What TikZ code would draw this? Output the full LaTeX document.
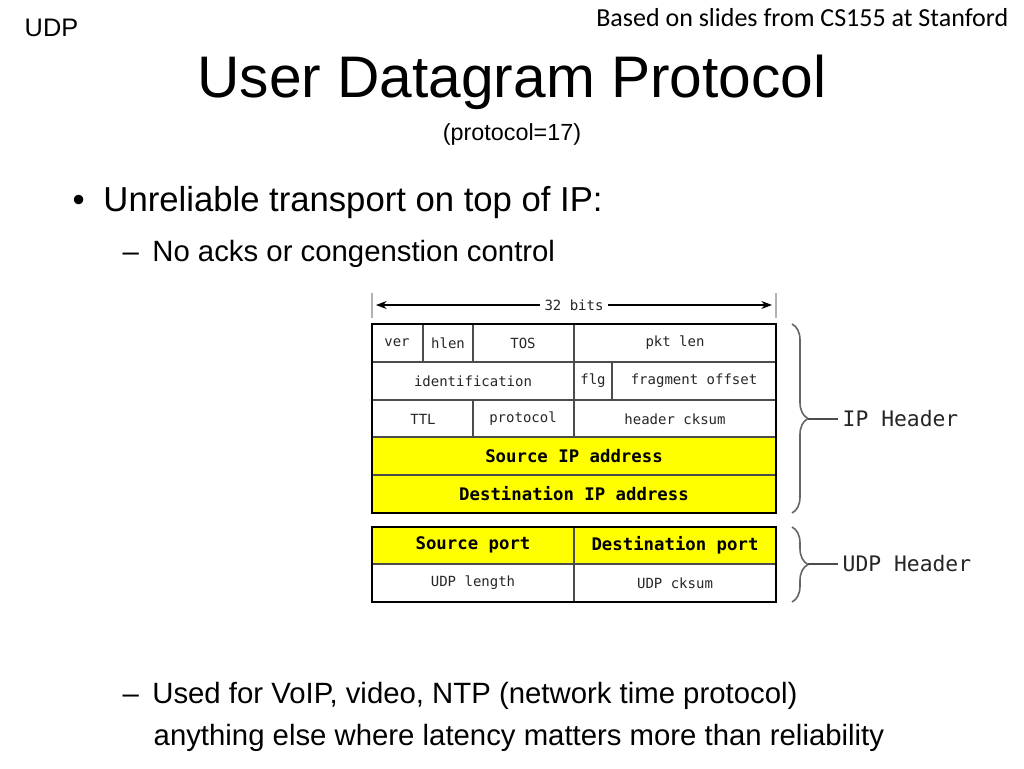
\documentclass[tikz,border=0pt]{standalone}
\usepackage{fontspec}
\setmainfont{Liberation Sans}
\newfontfamily\calfnt{Carlito}
\newfontfamily\mono{DejaVu Sans Mono}
\usetikzlibrary{decorations.pathreplacing,arrows.meta}
\definecolor{hl}{RGB}{255,255,0}
\begin{document}
\begin{tikzpicture}[x=0.75pt,y=-0.75pt,
  cell/.style={draw=black!70,line width=0.8pt},
  ct/.style={font=\mono\fontsize{10.5}{12}\selectfont,text=black!85},
  bt/.style={font=\mono\bfseries\fontsize{13}{15}\selectfont},
  br/.style={decorate,decoration={brace,amplitude=12pt,aspect=0.5},draw=black!60,line width=1.2pt}]
\useasboundingbox (0,0) rectangle (1024,768);
\node[anchor=west,font=\fontsize{19}{24}\selectfont] (udp) at (20,28) {UDP};
\node[anchor=east,font=\calfnt\fontsize{19.5}{22}\selectfont] (src) at (1013,18) {Based on slides from CS155 at Stanford};
\node[font=\fontsize{44}{54}\selectfont] (title) at (512,82) {User Datagram Protocol};
\node[font=\fontsize{17.5}{22}\selectfont] (proto) at (512,134) {(protocol=17)};
\node[anchor=west,font=\fontsize{26}{32}\selectfont] (b1) at (68,203) {\textbullet\hspace{14pt}Unreliable transport on top of IP:};
\node[anchor=west,font=\fontsize{22}{28}\selectfont] (b2) at (118,254) {–\hspace{10pt}No acks or congenstion control};
\node[anchor=west,font=\fontsize{22}{28}\selectfont] (b3) at (118,696) {–\hspace{10pt}Used for VoIP, video, NTP (network time protocol)};
\node[anchor=west,font=\fontsize{22}{28}\selectfont] (b4) at (149,738) {anything else where latency matters more than reliability};
% yellow rows
\fill[hl] (372,437) rectangle (776,513);
\fill[hl] (372,527) rectangle (776,564);
% grid IP
\draw[cell] (372,362)--(776,362) (372,400)--(776,400) (372,437)--(776,437) (372,475)--(776,475);
\draw[cell] (423,324)--(423,362) (473,324)--(473,362) (574,324)--(574,437) (612,362)--(612,400) (473,400)--(473,437);
\draw[line width=1.8pt] (372,324) rectangle (776,513);
% grid UDP
\draw[cell] (372,564)--(776,564) (574,527)--(574,602);
\draw[line width=1.8pt] (372,527) rectangle (776,602);
% labels
\node[ct] (ver) at (397,343) {ver};
\node[ct] (hlen) at (448,343) {hlen};
\node[ct] (tos) at (523,343) {TOS};
\node[ct] (pkt) at (675,343) {pkt len};
\node[ct] (ident) at (473,381) {identification};
\node[ct] (flg) at (593,381) {flg};
\node[ct] (frag) at (694,381) {fragment offset};
\node[ct] (ttl) at (423,419) {TTL};
\node[ct] (prot) at (523,419) {protocol};
\node[ct] (hck) at (675,419) {header cksum};
\node[bt] (sip) at (574,456) {Source IP address};
\node[bt] (dip) at (574,494) {Destination IP address};
\node[bt] (sp) at (473,545) {Source port};
\node[bt] (dp) at (675,545) {Destination port};
\node[ct] (ul) at (473,583) {UDP length};
\node[ct] (uc) at (675,583) {UDP cksum};
% 32 bits
\draw[black!30,line width=1pt] (372,293)--(372,318) (776,293)--(776,318);
\node[ct,fill=white] (bits) at (574,305) {32 bits};
\coordinate (al) at (376,305); \coordinate (ar) at (772,305);
\draw[-{Stealth[length=8pt]},line width=0.8pt] (bits.west)--(al);
\draw[-{Stealth[length=8pt]},line width=0.8pt] (bits.east)--(ar);
% braces
\draw[br] (792,324)--(792,513);
\draw[br] (792,527)--(792,602);
\node[anchor=west,font=\mono\fontsize{16}{18}\selectfont,text=black!85] (iph) at (838,419) {IP Header};
\node[anchor=west,font=\mono\fontsize{16}{18}\selectfont,text=black!85] (udph) at (838,564) {UDP Header};
\coordinate (ipt) at (808,419); \coordinate (udt) at (808,564);
\draw[black!70,line width=1.2pt] (ipt)--(iph.west) (udt)--(udph.west);
\end{tikzpicture}
\end{document}
